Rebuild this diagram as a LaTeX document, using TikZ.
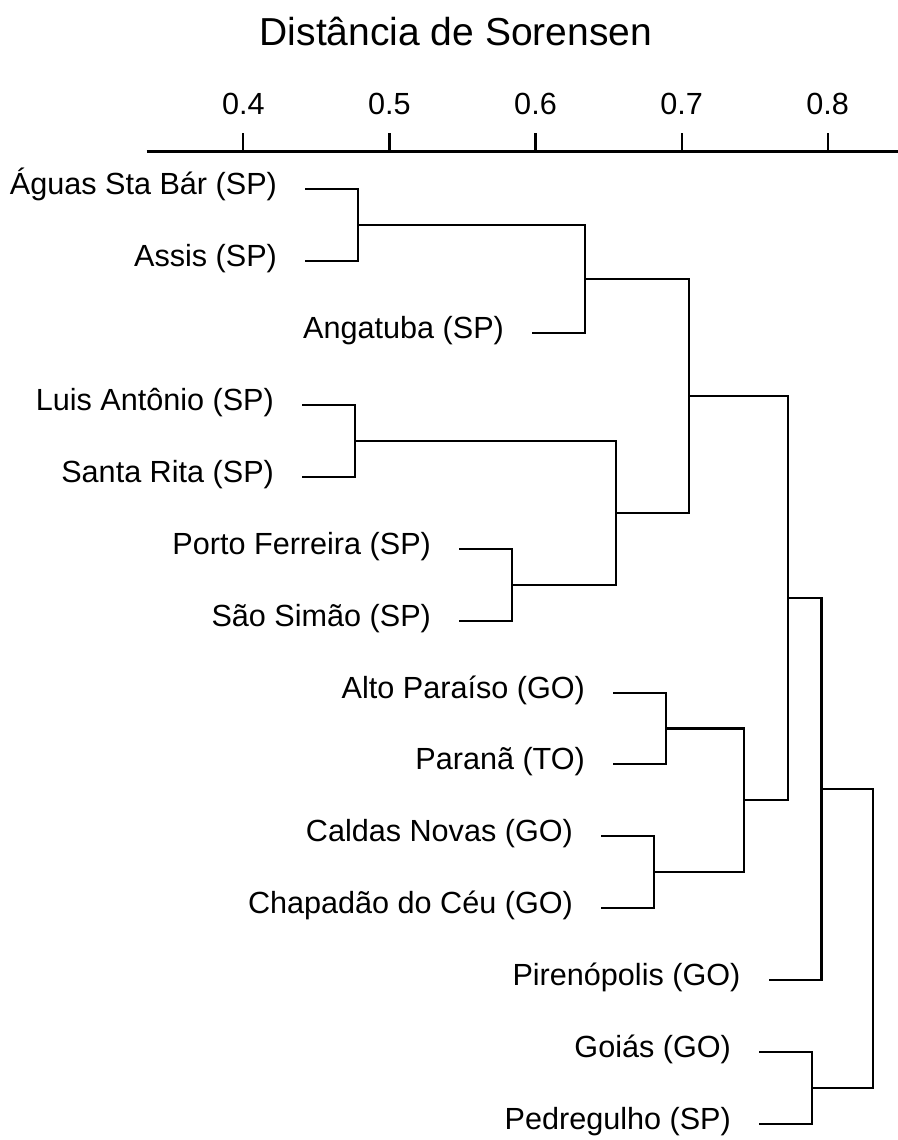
\documentclass[tikz,border=0pt]{standalone}
\usepackage{fontspec}
\setmainfont{Liberation Sans}
\usetikzlibrary{positioning}
\newcommand*{\mergeLines}[3]{ %#1,#2 are the two children, #3 is the merge point
	\draw (#1) -| (#3|-#2) -- (#2);
}

\begin{document}
\begin{tikzpicture}[x=0.5pt,y=-0.5pt,line width=1.1pt,
		leaf/.style={anchor=mid east,inner sep=0pt,font=\fontsize{15.3}{18}\selectfont},
		ticklabel/.style={anchor=base,inner sep=0pt,font=\fontsize{15.3}{18}\selectfont},
		axistitle/.style={anchor=base,inner sep=0pt,font=\fontsize{19.5}{23}\selectfont}]
		\useasboundingbox (0,0) rectangle (898,1140);
		
		% The axis
		\draw[line width=1.3pt] (146.7,151.7) coordinate (axis start) -- (898,151.7) coordinate (axis end);
		\foreach \k/\v in {0/0.4,1/0.5,2/0.6,3/0.7,4/0.8}
		{
			\draw (243.3+146.1*\k,151.7) coordinate (t\k) -- (243.3+146.1*\k,133);
			\node[ticklabel] (tl\k) at (243.3+146.1*\k,114) {\v};
		}
		\node[axistitle] (title) at (456,46) {Distância de Sorensen};
		
		% leaves: stub start and label
		\foreach \n/\y/\mx/\texto in {1/189/358/{Águas Sta Bár (SP)},2/261/358/{Assis (SP)},
			3/333/585/{Angatuba (SP)},4/405/355/{Luis Antônio (SP)},5/477/355/{Santa Rita (SP)},
			6/549/512/{Porto Ferreira (SP)},7/621/512/{São Simão (SP)},8/693/666/{Alto Paraíso (GO)},
			9/764/666/{Paranã (TO)},10/836/654/{Caldas Novas (GO)},11/908/654/{Chapadão do Céu (GO)},
			12/980/821.5/{Pirenópolis (GO)},13/1052/812/{Goiás (GO)},14/1124/812/{Pedregulho (SP)}}
		{
			\coordinate (s\n) at (\mx-53,\y);
			\node[leaf] (l\n) at (\mx-80,\y) {\texto};
		}
		
		% merge points
		\coordinate (m1) at (358,225);
		\coordinate (m2) at (585,279);
		\coordinate (m3) at (355,441);
		\coordinate (m4) at (512,585);
		\coordinate (m5) at (616,513);
		\coordinate (m6) at (689,396);
		\coordinate (m7) at (666,728.5);
		\coordinate (m8) at (654,872);
		\coordinate (m9) at (744,800);
		\coordinate (m10) at (788,598);
		\coordinate (m11) at (821.5,789);
		\coordinate (m12) at (812,1088);
		\coordinate (m13) at (873,938.5);
		
		% the tree
		\mergeLines{s1}{s2}{m1}
		\mergeLines{m1}{s3}{m2}
		\mergeLines{s4}{s5}{m3}
		\mergeLines{s6}{s7}{m4}
		\mergeLines{m3}{m4}{m5}
		\mergeLines{m2}{m5}{m6}
		\mergeLines{s8}{s9}{m7}
		\mergeLines{s10}{s11}{m8}
		\mergeLines{m7}{m8}{m9}
		\mergeLines{m6}{m9}{m10}
		\mergeLines{m10}{s12}{m11}
		\mergeLines{s13}{s14}{m12}
		\mergeLines{m11}{m12}{m13}
		
	\end{tikzpicture}
\end{document}
